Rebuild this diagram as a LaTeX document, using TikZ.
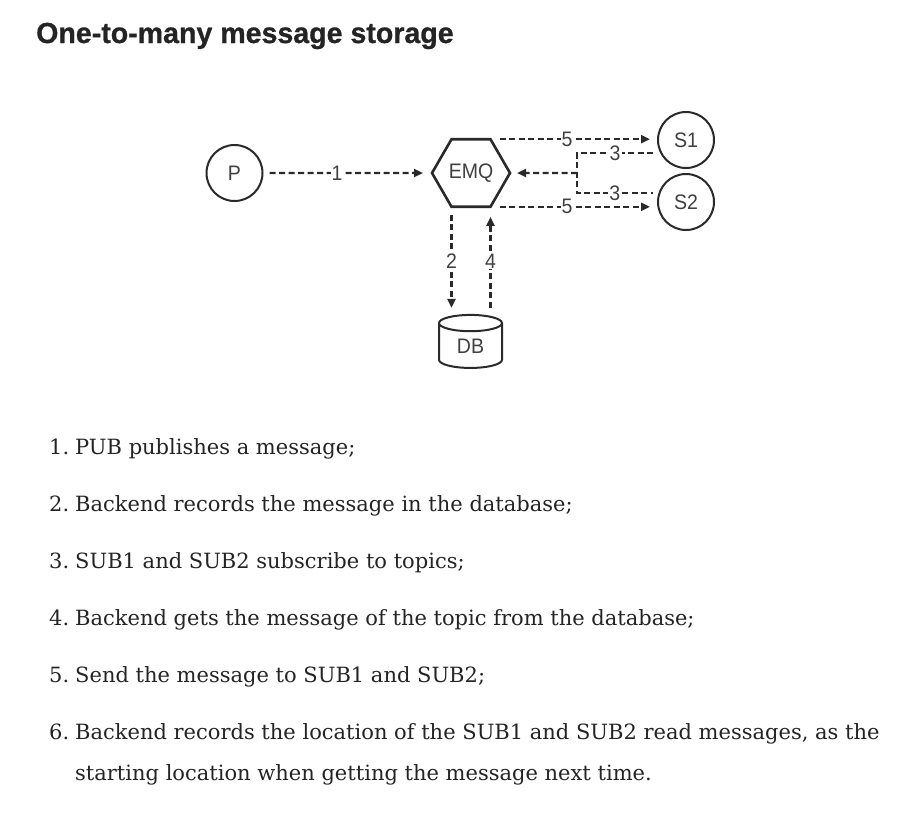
\documentclass[tikz,border=0pt]{standalone}
\usepackage{fontspec}
\setmainfont{DejaVu Serif}
\newfontfamily\titlefont{Liberation Sans}[FakeStretch=0.985, BoldFeatures={FakeBold=0.8}]
\newfontfamily\diafont{Liberation Sans}[FakeStretch=0.93]
\usetikzlibrary{arrows.meta,shapes.geometric,calc}

\definecolor{ink}{HTML}{242424}
\definecolor{linegray}{HTML}{2A2A2A}
\definecolor{textgray}{HTML}{404040}

\tikzset{
    client/.style={circle, draw=linegray, line width=2pt, minimum size=56pt,
        inner sep=0pt, outer sep=0pt, text=textgray, font=\diafont\fontsize{21}{21}\selectfont},
    broker/.style={regular polygon, regular polygon sides=6, draw=linegray, line width=2.6pt,
        minimum size=78pt, inner sep=0pt, outer sep=0pt, text=textgray,
        font=\diafont\fontsize{21}{21}\selectfont},
    store/.style={cylinder, shape border rotate=90, aspect=0.6, draw=linegray, line width=2pt,
        minimum width=63pt, minimum height=53pt, inner sep=0pt, outer sep=0pt, text=textgray,
        font=\diafont\fontsize{21}{21}\selectfont},
    link/.style={draw=linegray, line width=2.2pt, dash pattern=on 6pt off 3.5pt},
    flow/.style={link, -{Triangle[length=9pt, width=8pt]}},
    lbl/.style={fill=white, inner sep=1pt, text=textgray, font=\diafont\fontsize{21}{21}\selectfont},
    item/.style={anchor=base west, inner sep=0pt, text=ink, font=\fontsize{21}{21}\selectfont},
}

\begin{document}
\begin{tikzpicture}[x=1pt, y=-1pt]
    \useasboundingbox[fill=white] (0, 0) rectangle (921, 820);

    % 标题
    \node[anchor=base west, inner sep=0pt, text=ink] (title) at (36, 43)
        {\titlefont\fontsize{29}{29}\selectfont\bfseries One-to-many message storage};

    % 节点:发布者、EMQ、两个订阅者、数据库
    \node[client] (pub) at (234.5, 173) {P};
    \node[broker] (emq) at (471, 173) {EMQ};
    \node[client] (sub1) at (686, 140) {S1};
    \node[client] (sub2) at (686, 202) {S2};
    \node[store] (db) at (470.5, 346) {DB};

    % 订阅请求汇合处
    \coordinate (join) at (577, 173);

    % 1:发布
    \draw[flow] ([xshift=7pt]pub.east) -- node[lbl, pos=0.44] {1} ([xshift=-9pt]emq.west);

    % 2、4:数据库读写
    \draw[flow, shorten <=8pt, shorten >=7pt] (emq.-120) -- node[lbl] {2} (emq.-120 |- db.north);
    \draw[flow, shorten <=7pt, shorten >=10pt] (emq.-60 |- db.north) -- node[lbl] {4} (emq.-60);

    % 3:订阅
    \draw[link] ([xshift=-8pt]sub1.208) -- node[lbl] {3} (sub1.208 -| join)
        -- (sub2.161 -| join) -- node[lbl] {3} ([xshift=-7pt]sub2.161);
    \draw[flow] (join) -- ([xshift=7pt]emq.east);

    % 5:投递
    \draw[flow, shorten <=9pt] (emq.60) -- node[lbl, pos=0.48] {5} ([xshift=-8pt]emq.60 -| sub1.west);
    \draw[flow, shorten <=9pt] (emq.-60) -- node[lbl, pos=0.48] {5} ([xshift=-8pt]emq.-60 -| sub2.west);

    % 步骤说明
    \node[item] (n1) at (49, 454) {1.};
    \node[item] (t1) at (75, 454) {PUB publishes a message;};
    \node[item] (n2) at (49, 511) {2.};
    \node[item] (t2) at (75, 511) {Backend records the message in the database;};
    \node[item] (n3) at (49, 568) {3.};
    \node[item] (t3) at (75, 568) {SUB1 and SUB2 subscribe to topics;};
    \node[item] (n4) at (49, 625) {4.};
    \node[item] (t4) at (75, 625) {Backend gets the message of the topic from the database;};
    \node[item] (n5) at (49, 682) {5.};
    \node[item] (t5) at (75, 682) {Send the message to SUB1 and SUB2;};
    \node[item] (n6) at (49, 739) {6.};
    \node[item] (t6) at (75, 739) {Backend records the location of the SUB1 and SUB2 read messages, as the};
    \node[item] (t6b) at (75, 780) {starting location when getting the message next time.};
\end{tikzpicture}
\end{document}
